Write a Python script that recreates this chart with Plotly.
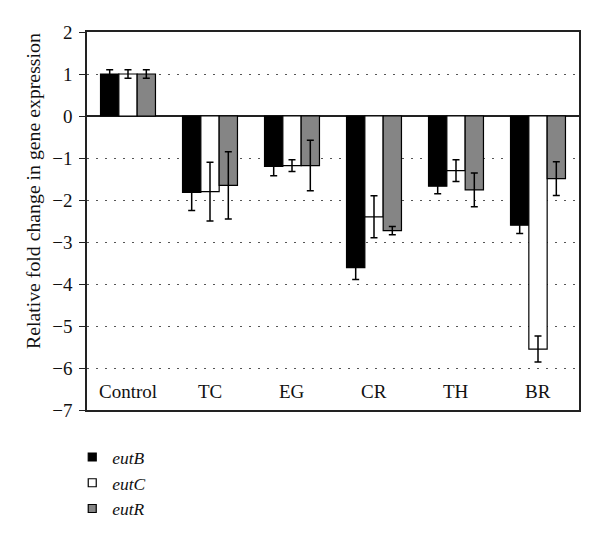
import plotly.graph_objects as go

categories = ["Control", "TC", "EG", "CR", "TH", "BR"]
series_names = ["eutB", "eutC", "eutR"]
eutB = [1.0, -1.82, -1.2, -3.61, -1.67, -2.6]
eutB_err = [0.1, 0.43, 0.22, 0.28, 0.18, 0.2]
eutC = [1.0, -1.8, -1.18, -2.4, -1.3, -5.55]
eutC_err = [0.1, 0.7, 0.14, 0.5, 0.26, 0.31]
eutR = [1.0, -1.65, -1.18, -2.73, -1.76, -1.49]
eutR_err = [0.1, 0.8, 0.6, 0.1, 0.4, 0.4]
y_ticks = [2, 1, 0, -1, -2, -3, -4, -5, -6, -7]

colors = ["#000000", "#ffffff", "#858585"]
values = [eutB, eutC, eutR]
errors = [eutB_err, eutC_err, eutR_err]

FONT = "Liberation Serif"
TXT = "#111111"

fig = go.Figure()
for name, vals, errs, col in zip(series_names, values, errors, colors):
    fig.add_trace(go.Bar(
        x=categories, y=vals, name=name, showlegend=False,
        marker=dict(color=col, line=dict(color="#000000", width=1.2)),
        error_y=dict(type="data", array=errs, visible=True,
                     color="#000000", thickness=1.5, width=3.5),
    ))
# legend entries (small square swatches)
for name, col in zip(series_names, colors):
    fig.add_trace(go.Scatter(
        x=[None], y=[None], mode="markers", name=f"<i>{name}</i>",
        marker=dict(symbol="square", size=8, color=col,
                    line=dict(color="#000000", width=1.2)),
    ))

for c in categories:
    fig.add_annotation(x=c, y=-6.56, xref="x", yref="y", text=c,
                       showarrow=False, yanchor="middle",
                       font=dict(family=FONT, size=19, color=TXT))

fig.add_annotation(x=-0.11, y=0.579, xref="paper", yref="paper",
                   xanchor="center", yanchor="middle",
                   text="Relative fold change in gene expression",
                   textangle=-90, showarrow=False,
                   font=dict(family=FONT, size=19.8, color=TXT))

fig.update_layout(
    width=600, height=542,
    margin=dict(l=87, r=21, t=32, b=132, autoexpand=False),
    paper_bgcolor="white", plot_bgcolor="white",
    barmode="group", bargap=0.33, bargroupgap=0,
    font=dict(family=FONT, size=19, color=TXT),
    showlegend=True,
    legend=dict(x=-0.03, y=-0.077, xanchor="left", yanchor="top",
                orientation="v", font=dict(family=FONT, size=17.5, color=TXT),
                tracegroupgap=0, bgcolor="rgba(0,0,0,0)"),
    xaxis=dict(showticklabels=False, ticks="", showgrid=False,
               showline=True, linecolor="#222222", linewidth=1.5,
               mirror=True, zeroline=False),
    yaxis=dict(range=[-7, 2], tickvals=y_ticks, ticks="outside",
               ticklen=6, tickcolor="#222222", ticklabelstandoff=3,
               showgrid=True, gridcolor="#555555", gridwidth=1.2,
               griddash="2px,7px",
               zeroline=True, zerolinecolor="#222222", zerolinewidth=1.8,
               showline=True, linecolor="#222222", linewidth=1.5,
               mirror=True, tickfont=dict(family=FONT, size=19, color=TXT)),
)

fig.write_html("out.html", config={"displayModeBar": False},
               post_script="document.body.style.margin='0';")
